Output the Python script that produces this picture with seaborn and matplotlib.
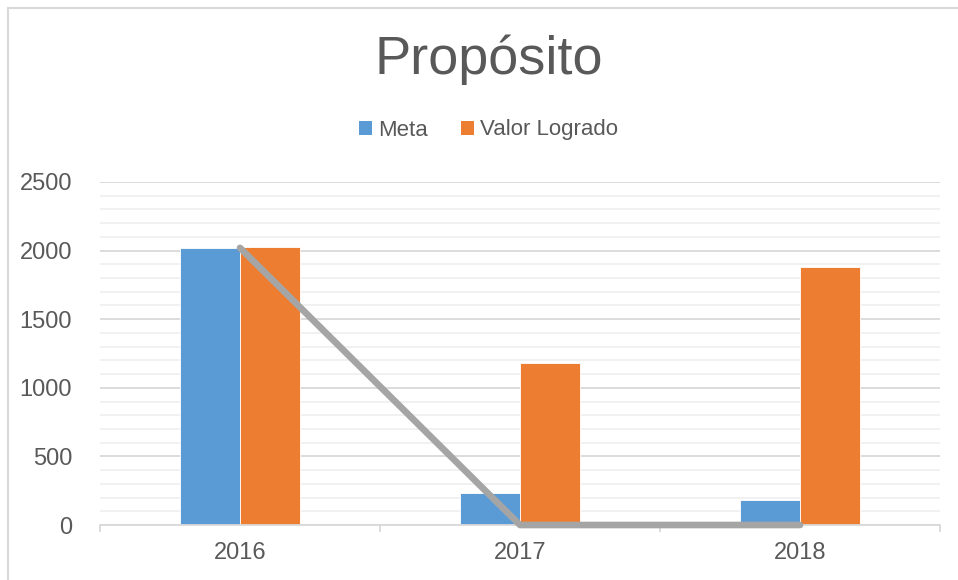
import numpy as np
import pandas as pd
import matplotlib
matplotlib.use("Agg")
import matplotlib.pyplot as plt
import seaborn as sns
from matplotlib.patches import Rectangle, Patch
from matplotlib.ticker import MultipleLocator

years = ["2016", "2017", "2018"]
meta = [2020, 230, 180]
valor_logrado = [2025, 1180, 1880]
serie3 = [2020, 0, 0]
series_names = ["Meta", "Valor Logrado"]
yticks = [0, 500, 1000, 1500, 2000, 2500]
title = "Propósito"

colors = ["#5b9bd5", "#ed7d31"]
line_color = "#a5a5a5"
text_color = "#595959"

sns.set_theme(style="white")
plt.rcParams["font.family"] = ["Liberation Sans", "DejaVu Sans"]

df = pd.DataFrame({
    "Año": years * 2,
    "Serie": [series_names[0]] * 3 + [series_names[1]] * 3,
    "Valor": meta + valor_logrado,
})

fig = plt.figure(figsize=(9.58, 5.8), dpi=100)
ax = fig.add_axes([100 / 958, 55 / 580, 840 / 958, 343 / 580])

sns.barplot(data=df, x="Año", y="Valor", hue="Serie", palette=colors,
            width=0.43, ax=ax, legend=False, saturation=1, zorder=3,
            edgecolor="white", linewidth=0.6)

sns.lineplot(x=np.arange(len(years)), y=serie3, color=line_color, lw=4.8,
             ax=ax, zorder=6, solid_capstyle="round", solid_joinstyle="round",
             clip_on=False)

ax.set_xlim(-0.5, len(years) - 0.5)
ax.set_ylim(0, 2500)
ax.set_yticks(yticks)
ax.set_yticklabels([str(v) for v in yticks])
ax.yaxis.set_minor_locator(MultipleLocator(100))
ax.grid(which="major", axis="y", color="#d9d9d9", lw=1.3, zorder=0)
ax.grid(which="minor", axis="y", color="#f0f0f0", lw=1.3, zorder=0)
ax.grid(False, axis="x")
ax.set_xlabel("")
ax.set_ylabel("")
for s in ["top", "right", "left"]:
    ax.spines[s].set_visible(False)
ax.spines["bottom"].set_color("#d9d9d9")
ax.spines["bottom"].set_linewidth(1.3)
ax.spines["bottom"].set_zorder(5)

ax.set_xticks(np.arange(len(years)))
ax.set_xticklabels(years)
ax.set_xticks(np.arange(len(years) + 1) - 0.5, minor=True)
ax.tick_params(axis="x", which="major", length=0, pad=12, labelsize=17, labelcolor=text_color)
ax.tick_params(axis="x", which="minor", length=5, width=1.3, color="#d9d9d9", bottom=True)
ax.tick_params(axis="y", which="both", length=0, pad=20, labelsize=17, labelcolor=text_color)

fig.text(0.51, 1 - 60 / 580, title, ha="center", va="center", fontsize=39, color=text_color)

handles = [Patch(facecolor=c, edgecolor="none") for c in colors]
fig.legend(handles, series_names, loc="center", bbox_to_anchor=(0.51, 1 - 130 / 580),
           ncol=2, frameon=False, fontsize=16, labelcolor=text_color,
           handlelength=0.6, handleheight=0.6, handletextpad=0.25, columnspacing=1.5)

fig.patches.append(Rectangle((8 / 958, -0.1), 1.2, 1 - 8 / 580 + 0.1, transform=fig.transFigure,
                             fill=False, edgecolor="#d9d9d9", lw=1.5))

fig.savefig("out.png", dpi=100, facecolor="white")
